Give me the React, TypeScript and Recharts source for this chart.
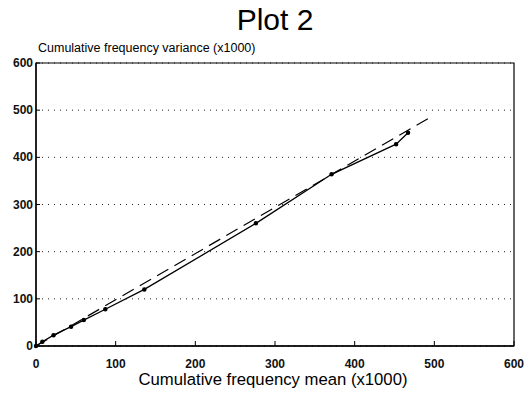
import { LineChart, Line, XAxis, YAxis, CartesianGrid, ReferenceArea } from "recharts";

// cumulative frequency mean vs variance (both x1000)
const meanX = [0, 8, 22, 44, 60, 87, 136, 276, 371, 452, 467];
const varianceY = [0, 9, 23, 41, 55, 78, 120, 260, 364, 428, 452];

// dashed reference line
const fitX = [0, 497];
const fitY = [0, 487];

const xTicks = [0, 100, 200, 300, 400, 500, 600];
const yTicks = [0, 100, 200, 300, 400, 500, 600];

const observed = meanX.map((m, i) => ({ mean: m, variance: varianceY[i] }));
const fitted = fitX.map((m, i) => ({ mean: m, variance: fitY[i] }));

const font = "'Liberation Sans', Arial, sans-serif";

// ticks point inwards, labels outside
function XTick(props: any) {
  const { x, payload } = props;
  return (
    <g>
      <line x1={x} y1={346} x2={x} y2={341} stroke="#000" />
      <text x={x} y={368} textAnchor="middle" fontSize={12} fontWeight="bold" fontFamily={font} fill="#111">
        {payload.value}
      </text>
    </g>
  );
}

function YTick(props: any) {
  const { y, payload } = props;
  return (
    <g>
      <line x1={36} y1={y} x2={40} y2={y} stroke="#000" />
      <text x={33} y={y + 4} textAnchor="end" fontSize={12} fontWeight="bold" fontFamily={font} fill="#111">
        {payload.value}
      </text>
    </g>
  );
}

export default function App() {
  return (
    <div style={{ position: "absolute", left: 0, top: 0, width: 530, height: 397, background: "#fff", fontFamily: font }}>
      <div style={{ position: "absolute", left: 0, width: 550, top: 3, textAlign: "center", fontSize: 30, lineHeight: "34px" }}>
        Plot 2
      </div>
      <div style={{ position: "absolute", left: 38, top: 41, fontSize: 12.5, lineHeight: "14px" }}>
        Cumulative frequency variance (x1000)
      </div>
      <div style={{ position: "absolute", left: 0, width: 546, top: 370, textAlign: "center", fontSize: 16.7, lineHeight: "20px" }}>
        Cumulative frequency mean (x1000)
      </div>
      <LineChart width={530} height={397} margin={{ top: 63, right: 16, bottom: 21, left: 0 }}>
        <CartesianGrid vertical={false} stroke="#222" strokeDasharray="1 5" />
        <XAxis
          type="number"
          dataKey="mean"
          domain={[0, 600]}
          ticks={xTicks}
          interval={0}
          height={30}
          tickLine={false}
          stroke="#000"
          strokeWidth={1.3}
          tick={XTick}
        />
        <YAxis
          type="number"
          dataKey="variance"
          domain={[0, 600]}
          ticks={yTicks}
          interval={0}
          width={36}
          tickLine={false}
          stroke="#000"
          strokeWidth={1.3}
          tick={YTick}
        />
        <ReferenceArea x1={0} x2={600} y1={0} y2={600} fill="none" stroke="#000" strokeWidth={1.2} />
        <Line
          data={fitted}
          dataKey="variance"
          stroke="#000"
          strokeWidth={1.2}
          strokeDasharray="13 7"
          dot={false}
          isAnimationActive={false}
        />
        <Line
          data={observed}
          dataKey="variance"
          stroke="#000"
          strokeWidth={1.3}
          dot={{ r: 1.6, fill: "#000", stroke: "#000" }}
          isAnimationActive={false}
        />
      </LineChart>
    </div>
  );
}
